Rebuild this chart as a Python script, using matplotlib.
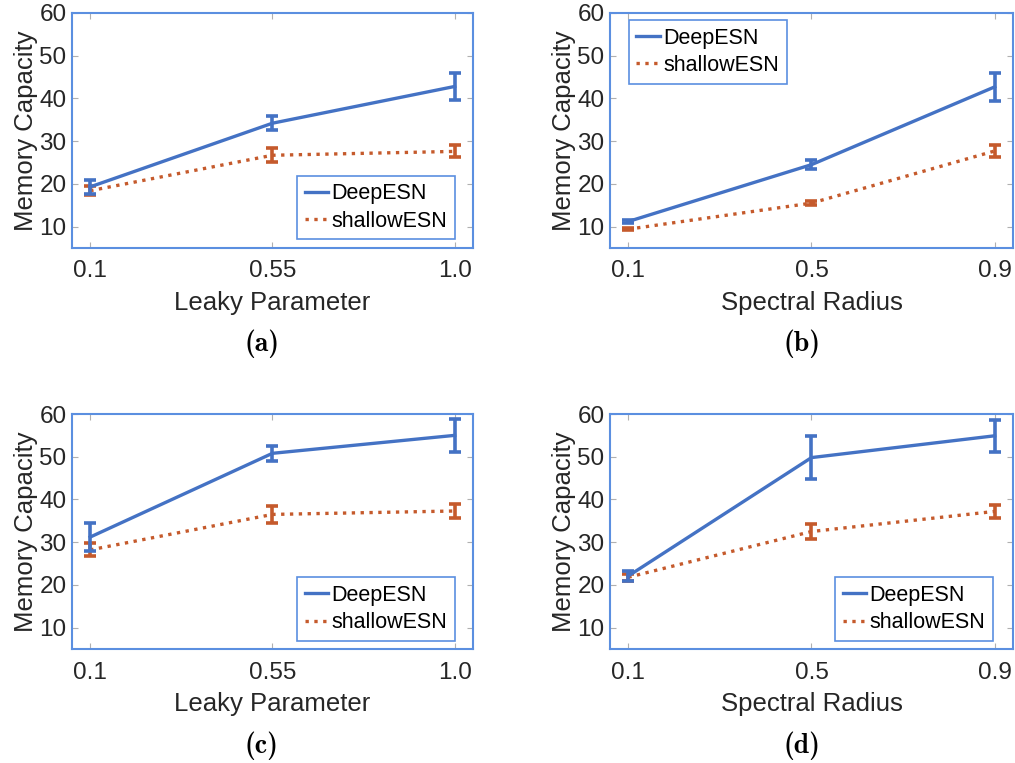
import os
import matplotlib
matplotlib.use('Agg')
import matplotlib.pyplot as plt
from matplotlib.lines import Line2D
from matplotlib.font_manager import FontProperties

plt.rcParams['font.family'] = ['Liberation Sans', 'DejaVu Sans']

# values: (mean, error half-width)
leaky_ticks = ['0.1', '0.55', '1.0']
radius_ticks = ['0.1', '0.5', '0.9']

a_deep = [19.3, 34.2, 42.8]
a_deep_err = [1.7, 1.7, 3.2]
a_shallow = [18.4, 26.7, 27.6]
a_shallow_err = [1.0, 1.6, 1.4]

b_deep = [11.2, 24.5, 42.7]
b_deep_err = [0.4, 1.0, 3.2]
b_shallow = [9.4, 15.5, 27.7]
b_shallow_err = [0.3, 0.4, 1.4]

c_deep = [31.2, 50.8, 55.0]
c_deep_err = [3.3, 1.7, 3.8]
c_shallow = [28.2, 36.5, 37.3]
c_shallow_err = [1.5, 2.0, 1.6]

d_deep = [22.1, 49.8, 54.9]
d_deep_err = [1.2, 5.1, 3.8]
d_shallow = [21.8, 32.5, 37.2]
d_shallow_err = [0.8, 1.7, 1.5]

blue = '#4472c4'
orange = '#c55a2c'
frame = '#5b8fe0'

cm_bold = os.path.join(matplotlib.get_data_path(), 'fonts', 'ttf', 'cmb10.ttf')
cap_font = FontProperties(fname=cm_bold, size=20)

fig = plt.figure(figsize=(10.15, 7.63), dpi=100)

panels = [
    ([0.0709, 0.675, 0.395, 0.308], leaky_ticks, 'Leaky Parameter', a_deep, a_deep_err, a_shallow, a_shallow_err,
     'lower right', (0.955, 0.038), '(a)', 0.258, 0.549),
    ([0.601, 0.675, 0.397, 0.308], radius_ticks, 'Spectral Radius', b_deep, b_deep_err, b_shallow, b_shallow_err,
     'upper left', (0.047, 0.970), '(b)', 0.790, 0.549),
    ([0.0709, 0.1494, 0.395, 0.308], leaky_ticks, 'Leaky Parameter', c_deep, c_deep_err, c_shallow, c_shallow_err,
     'lower right', (0.955, 0.034), '(c)', 0.258, 0.022),
    ([0.601, 0.1494, 0.397, 0.308], radius_ticks, 'Spectral Radius', d_deep, d_deep_err, d_shallow, d_shallow_err,
     'lower right', (0.950, 0.034), '(d)', 0.790, 0.022),
]

for rect, ticks, xlabel, deep, deep_err, shallow, shallow_err, loc, anchor, cap, cx, cy in panels:
    ax = fig.add_axes(rect)
    x = range(len(ticks))
    ax.errorbar(x, deep, yerr=deep_err, color=blue, lw=2.4, capsize=4, capthick=2.6,
                elinewidth=2.6, zorder=3)
    ax.errorbar(x, shallow, yerr=shallow_err, color=orange, lw=2.4, ls=':', capsize=4,
                capthick=2.6, elinewidth=2.6, zorder=2)
    ax.set_xlim(-0.1, 2.1)
    ax.set_ylim(5, 60)
    ax.set_xticks(list(x))
    ax.set_xticklabels(ticks)
    ax.set_yticks([10, 20, 30, 40, 50, 60])
    ax.tick_params(direction='in', length=4, width=0.8, color='#b0b0b0', labelsize=17.5,
                   labelcolor='#262626', top=True, right=True)
    ax.tick_params(axis='x', pad=9)
    ax.tick_params(axis='y', pad=4)
    for s in ax.spines.values():
        s.set_color(frame)
        s.set_linewidth(1.5)
    ax.set_xlabel(xlabel, fontsize=18.5, color='#262626', labelpad=6)
    ax.set_ylabel('Memory Capacity', fontsize=18.5, color='#262626', labelpad=1)
    handles = [Line2D([], [], color=blue, lw=2.4), Line2D([], [], color=orange, lw=2.4, ls=':')]
    leg = ax.legend(handles, ['DeepESN', 'shallowESN'], loc=loc, bbox_to_anchor=anchor,
                    borderaxespad=0, fontsize=15.5, handlelength=1.1, handletextpad=0.15,
                    fancybox=False, framealpha=1, borderpad=0.35, labelspacing=0.3)
    leg.get_frame().set_edgecolor(frame)
    leg.get_frame().set_linewidth(1.2)
    fig.text(cx, cy, cap, fontproperties=cap_font, ha='center', va='center')

fig.savefig('out.png', dpi=100)
